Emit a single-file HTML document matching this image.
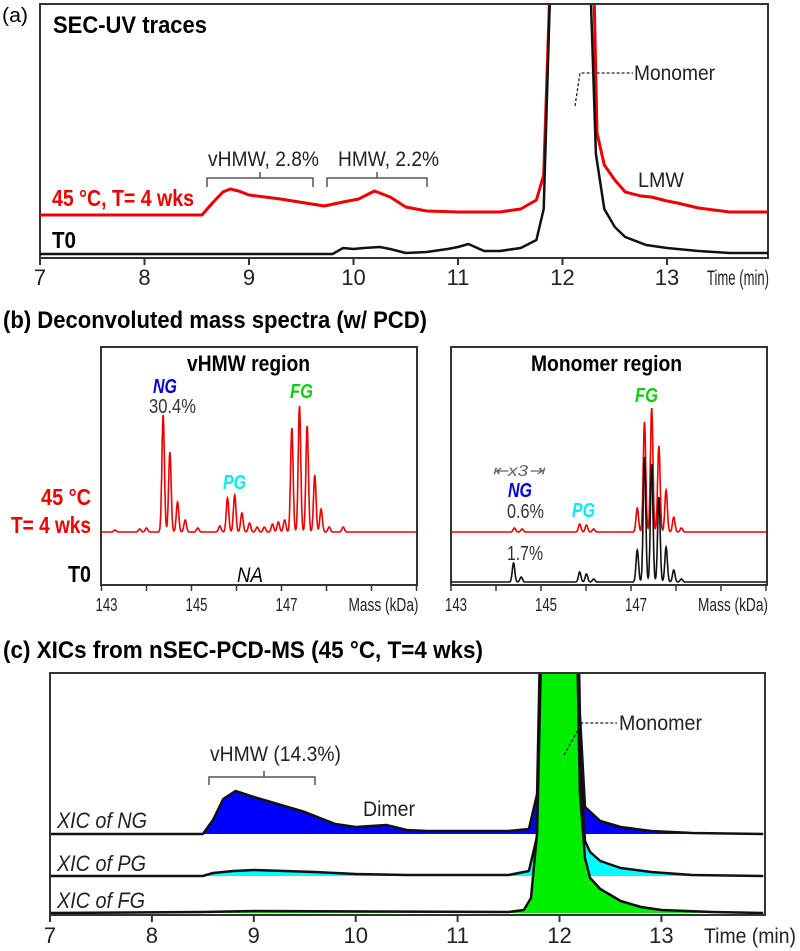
<!DOCTYPE html>
<html><head><meta charset="utf-8"><style>
html,body{margin:0;padding:0;background:#fff;}
svg{display:block;}
text{font-family:"Liberation Sans Narrow","Liberation Sans",sans-serif;}
</style></head><body>
<svg id="fig" width="800" height="951" viewBox="0 0 800 951" xmlns="http://www.w3.org/2000/svg">
<defs>
<clipPath id="clipA"><rect x="40" y="5" width="728" height="253"/></clipPath>
<clipPath id="clipBL"><rect x="101" y="347" width="316" height="238"/></clipPath>
<clipPath id="clipBR"><rect x="451" y="347" width="316" height="238"/></clipPath>
<clipPath id="clipC"><rect x="50" y="673" width="715" height="242"/></clipPath>
</defs>

<!-- Panel a -->
<g>
<text x="2" y="22" font-size="20" textLength="26" lengthAdjust="spacingAndGlyphs">(a)</text>
<rect x="40" y="4" width="728" height="254" fill="none" stroke="#333" stroke-width="2"/>
<text x="53" y="33" font-size="24" font-weight="bold" textLength="154" lengthAdjust="spacingAndGlyphs">SEC-UV traces</text>
<g id="aTraces" clip-path="url(#clipA)"></g>
<g id="aAxis"></g>
<text x="52" y="206" font-size="23" font-weight="bold" fill="#e00" textLength="142" lengthAdjust="spacingAndGlyphs">45 °C, T= 4 wks</text>
<text x="52" y="248" font-size="23" font-weight="bold" textLength="24" lengthAdjust="spacingAndGlyphs">T0</text>
<path d="M207,187 V178 H313 V187 M260,178 V172" fill="none" stroke="#555" stroke-width="1.5"/>
<text x="208" y="166" font-size="21" fill="#222" textLength="111" lengthAdjust="spacingAndGlyphs">vHMW, 2.8%</text>
<path d="M327,187 V178 H427 V187 M377,178 V172" fill="none" stroke="#555" stroke-width="1.5"/>
<text x="338" y="166" font-size="21" fill="#222" textLength="101" lengthAdjust="spacingAndGlyphs">HMW, 2.2%</text>
<text x="638" y="187" font-size="21" fill="#222" textLength="46" lengthAdjust="spacingAndGlyphs">LMW</text>
<path d="M575,106 L580,73 H633" fill="none" stroke="#222" stroke-width="1.3" stroke-dasharray="3,2"/>
<text x="634" y="80" font-size="21" fill="#222" textLength="81" lengthAdjust="spacingAndGlyphs">Monomer</text>
</g>

<!-- Panel b -->
<g>
<text x="3" y="328" font-size="24" font-weight="bold" textLength="424" lengthAdjust="spacingAndGlyphs">(b) Deconvoluted mass spectra (w/ PCD)</text>
<rect x="101" y="347" width="316" height="238" fill="none" stroke="#333" stroke-width="2"/>
<rect x="451" y="347" width="316" height="238" fill="none" stroke="#333" stroke-width="2"/>
<g id="bLeft" clip-path="url(#clipBL)"></g>
<g id="bRight" clip-path="url(#clipBR)"></g>
<g id="bAxis"></g>
<text x="187" y="371" font-size="22" font-weight="bold" textLength="123" lengthAdjust="spacingAndGlyphs">vHMW region</text>
<text x="531" y="371" font-size="22" font-weight="bold" textLength="151" lengthAdjust="spacingAndGlyphs">Monomer region</text>
<text x="153" y="393" font-size="20" font-weight="bold" font-style="italic" fill="#00d" textLength="24" lengthAdjust="spacingAndGlyphs">NG</text>
<text x="149" y="413" font-size="20" fill="#333" textLength="47" lengthAdjust="spacingAndGlyphs">30.4%</text>
<text x="223" y="489" font-size="20" font-weight="bold" font-style="italic" fill="#0ee" textLength="23" lengthAdjust="spacingAndGlyphs">PG</text>
<text x="290" y="398" font-size="20" font-weight="bold" font-style="italic" fill="#1c1" textLength="23" lengthAdjust="spacingAndGlyphs">FG</text>
<text x="41" y="505" font-size="23" font-weight="bold" fill="#e00" textLength="50" lengthAdjust="spacingAndGlyphs">45 °C</text>
<text x="11" y="533" font-size="23" font-weight="bold" fill="#e00" textLength="80" lengthAdjust="spacingAndGlyphs">T= 4 wks</text>
<text x="68" y="582" font-size="23" font-weight="bold" textLength="23" lengthAdjust="spacingAndGlyphs">T0</text>
<text x="237" y="582" font-size="21" font-style="italic" textLength="26" lengthAdjust="spacingAndGlyphs">NA</text>
<text x="492" y="476" font-size="16" font-style="italic" fill="#666" textLength="52" lengthAdjust="spacingAndGlyphs">⇤x3⇥</text>
<text x="508" y="497" font-size="20" font-weight="bold" font-style="italic" fill="#00d" textLength="24" lengthAdjust="spacingAndGlyphs">NG</text>
<text x="507" y="518" font-size="20" fill="#333" textLength="37" lengthAdjust="spacingAndGlyphs">0.6%</text>
<text x="572" y="517" font-size="20" font-weight="bold" font-style="italic" fill="#0ee" textLength="23" lengthAdjust="spacingAndGlyphs">PG</text>
<text x="635" y="402" font-size="20" font-weight="bold" font-style="italic" fill="#1c1" textLength="23" lengthAdjust="spacingAndGlyphs">FG</text>
<text x="507" y="560" font-size="20" fill="#333" textLength="36" lengthAdjust="spacingAndGlyphs">1.7%</text>
</g>

<!-- Panel c -->
<g>
<text x="3" y="658" font-size="24" font-weight="bold" textLength="480" lengthAdjust="spacingAndGlyphs">(c) XICs from nSEC-PCD-MS (45 °C, T=4 wks)</text>
<g id="cTraces" clip-path="url(#clipC)"></g>
<rect x="50" y="673" width="715" height="242" fill="none" stroke="#333" stroke-width="2"/>
<g id="cAxis"></g>
<text x="57" y="828" font-size="22" font-style="italic" fill="#222" textLength="90" lengthAdjust="spacingAndGlyphs">XIC of NG</text>
<text x="57" y="871" font-size="22" font-style="italic" fill="#222" textLength="89" lengthAdjust="spacingAndGlyphs">XIC of PG</text>
<text x="57" y="908" font-size="22" font-style="italic" fill="#222" textLength="88" lengthAdjust="spacingAndGlyphs">XIC of FG</text>
<path d="M209,785 V777 H315 V785 M264,777 V771" fill="none" stroke="#555" stroke-width="1.5"/>
<text x="210" y="761" font-size="21" fill="#222" textLength="131" lengthAdjust="spacingAndGlyphs">vHMW (14.3%)</text>
<text x="363" y="816" font-size="21" fill="#222" textLength="52" lengthAdjust="spacingAndGlyphs">Dimer</text>
<path d="M564,755 L582,723 H617" fill="none" stroke="#222" stroke-width="1.3" stroke-dasharray="3,2"/>
<text x="619" y="730" font-size="21" fill="#222" textLength="83" lengthAdjust="spacingAndGlyphs">Monomer</text>
</g>
</svg>
<script>
// ---------- Panel (a) data: SEC-UV traces ----------
const aRedTimes = [7,8.55,8.65,8.75,8.82,8.9,9.0,9.3,9.6,9.72,9.9,10.05,10.2,10.35,10.5,10.7,11.0,11.4,11.6,11.75,11.82,11.88,11.95,12.05,12.2,12.3,12.33,12.4,12.5,12.6,12.75,12.85,13.0,13.1,13.3,13.6,14];
const aRedValues = [0,0,12,23,26,24,20,16,11,9,13,16,24,18,8,4,3,3,6,15,40,230,600,700,600,230,82,50,35,23,19,18,14,12,7,3,3];
const aBlackTimes = [7,9.8,9.9,10.0,10.1,10.25,10.35,10.5,10.7,10.9,11.0,11.1,11.25,11.4,11.6,11.75,11.82,11.88,11.95,12.05,12.2,12.27,12.32,12.4,12.5,12.6,12.8,13.0,13.3,13.6,14];
const aBlackValues = [0,0,6,5,6,7,5,1,2,5,7,10,3,3,6,14,45,260,650,750,650,260,100,45,27,17,9,6,3,1,1];
const aTicks = [7,8,9,10,11,12,13];

// ---------- Panel (b) data: deconvoluted mass spectra ----------
const bLeftRedMass = [143.3,143.85,144.0,144.37,144.52,144.69,144.86,145.14,145.63,145.8,145.96,146.12,146.29,146.46,146.62,146.8,146.93,147.07,147.23,147.4,147.57,147.74,147.88,148.06,148.37];
const bLeftRedHeight = [2,3,4,117,80,30,12,4,6,34,37,19,9,5,5,8,10,12,104,126,106,57,23,5,5];
const bRightRedMass = [144.41,144.58,145.86,146.01,146.17,147.14,147.3,147.46,147.62,147.78,147.95,148.12];
const bRightRedHeight = [4,3,8,7,3,24,110,124,86,42,15,4];
const bRightBlackMass = [144.39,144.56,145.86,146.01,146.17,147.14,147.3,147.46,147.62,147.78,147.95,148.12];
const bRightBlackHeight = [19,5,10,8,3,32,125,118,85,35,12,3];
const bTicks = [143,144,145,146,147,148,149,150];
const bTickLabels = ["143","","145","","147","","",""];

// ---------- Panel (c) data: XICs ----------
const cNGTimes = [7,8.5,8.6,8.7,8.82,9.0,9.3,9.5,9.6,9.8,10.0,10.15,10.3,10.5,10.7,11.0,11.5,11.7,11.78,11.85,12.0,12.15,12.2,12.25,12.4,12.6,12.9,13.3,14];
const cNGValues = [0,0,14,35,43,37,28,22,18,10,7,8,9,4,3,3,3,5,40,400,800,400,120,27,13,7,3,1,0];
const cPGTimes = [7,8.5,8.6,8.8,9.0,9.3,9.6,10.0,10.5,11.5,11.7,11.78,11.85,12.0,12.15,12.2,12.25,12.3,12.4,12.6,12.9,13.3,14];
const cPGValues = [0,0,3,5,6,5,4,2,1,1,5,40,400,800,400,120,35,24,15,8,4,1,0];
const cFGTimes = [7,8.5,9.0,11.5,11.65,11.72,11.78,11.85,12.0,12.15,12.2,12.25,12.3,12.4,12.5,12.6,12.8,13.0,13.5,14];
const cFGValues = [0,1,2,1,3,15,80,400,800,400,120,55,35,24,18,12,6,3,1,0];
const cTicks = [7,8,9,10,11,12,13];

const NS = "http://www.w3.org/2000/svg";
function mk(tag, attrs, parent){ const e=document.createElementNS(NS,tag); for(const k in attrs) e.setAttribute(k,attrs[k]); parent.appendChild(e); return e; }

const xA = t => 40 + (t-7)*104.5;
const yRedA = v => 215 - v;
const yBlackA = v => 254 - v;
const xBL = m => 101.5 + (m-143)*45;
const xBR = m => 451 + (m-143)*45;
const yBRed = h => 532 - h;
const yBBlack = h => 582 - h;
const xC = t => 50 + (t-7)*101.9;
const yNG = v => 834 - v;
const yPG = v => 876 - v;
const yFG = v => 913 - v;

function linePath(times, vals, xf, yf){
  return times.map((t,i)=>(i?"L":"M")+xf(t).toFixed(1)+","+yf(vals[i]).toFixed(1)).join(" ");
}

const gA = document.getElementById('aTraces');
let p = mk('path',{d:linePath(aRedTimes,aRedValues,xA,yRedA),fill:"none",stroke:"#e00","stroke-width":3,"stroke-linejoin":"round"},gA);


p = mk('path',{d:linePath(aBlackTimes,aBlackValues,xA,yBlackA),fill:"none",stroke:"#111","stroke-width":2.5,"stroke-linejoin":"round"},gA);



function timeAxis(g, ticks, xf, y0, labelY, fontSize, nameP){
  ticks.forEach(t=>{
    const l = mk('line',{x1:xf(t),x2:xf(t),y1:y0,y2:y0+7,stroke:"#333","stroke-width":2},g);
    
    
    const tx = mk('text',{x:xf(t),y:labelY,"font-size":fontSize,"text-anchor":"middle",fill:"#222"},g);
    tx.textContent = String(t);
    
    
  });
}
const gAx = document.getElementById('aAxis');
timeAxis(gAx, aTicks, xA, 258, 285, 22, 'a-x');
let tt = mk('text',{x:707,y:285,"font-size":21,fill:"#222",textLength:62,lengthAdjust:"spacingAndGlyphs"},gAx);
tt.textContent = "Time (min)";



function spectrumPath(masses, heights, xf, yf, m0, m1){
  let d = "";
  const step = 0.005, s = 0.028;
  for(let m=m0, i=0; m<=m1+1e-9; m+=step, i++){
    let v = 0;
    for(let k=0;k<masses.length;k++){ const z=(m-masses[k])/s; v += heights[k]*Math.exp(-0.5*z*z); }
    d += (i?"L":"M")+xf(m).toFixed(1)+","+yf(v).toFixed(1);
  }
  return d;
}
const gBL = document.getElementById('bLeft');
p = mk('path',{d:spectrumPath(bLeftRedMass,bLeftRedHeight,xBL,yBRed,143,150),fill:"none",stroke:"#e00","stroke-width":1.6},gBL);


const gBR = document.getElementById('bRight');
p = mk('path',{d:spectrumPath(bRightRedMass,bRightRedHeight,xBR,yBRed,143,150),fill:"none",stroke:"#e00","stroke-width":1.6},gBR);


p = mk('path',{d:spectrumPath(bRightBlackMass,bRightBlackHeight,xBR,yBBlack,143,150),fill:"none",stroke:"#111","stroke-width":1.6},gBR);



const gBAx = document.getElementById('bAxis');
[xBL,xBR].forEach((xf,pi)=>{
  bTicks.forEach((m,i)=>{
    const l = mk('line',{x1:xf(m),x2:xf(m),y1:585,y2:591,stroke:"#333","stroke-width":1.5},gBAx);
    
    
    if(bTickLabels[i]){
      const tx = mk('text',{x:xf(m)+5,y:611,"font-size":18,"text-anchor":"middle",fill:"#222",textLength:22,lengthAdjust:"spacingAndGlyphs"},gBAx);
      tx.textContent = bTickLabels[i];
      
      
    }
  });
  const at = mk('text',{x:xf(150)-68,y:611,"font-size":18,fill:"#222",textLength:70,lengthAdjust:"spacingAndGlyphs"},gBAx);
  at.textContent = "Mass (kDa)";
  
  
});

function areaPath(times, vals, xf, yf){
  return linePath(times,vals,xf,yf)+" L"+xf(times[times.length-1]).toFixed(1)+","+yf(0)+" L"+xf(times[0]).toFixed(1)+","+yf(0)+" Z";
}
const gC = document.getElementById('cTraces');
p = mk('path',{d:areaPath(cNGTimes,cNGValues,xC,yNG),fill:"#00f",stroke:"none"},gC);


p = mk('path',{d:linePath(cNGTimes,cNGValues,xC,yNG),fill:"none",stroke:"#111","stroke-width":2.5,"stroke-linejoin":"round"},gC);


p = mk('path',{d:areaPath(cPGTimes,cPGValues,xC,yPG),fill:"#0ff",stroke:"none"},gC);


p = mk('path',{d:linePath(cPGTimes,cPGValues,xC,yPG),fill:"none",stroke:"#111","stroke-width":2.5,"stroke-linejoin":"round"},gC);


p = mk('path',{d:areaPath(cFGTimes,cFGValues,xC,yFG),fill:"#0e0",stroke:"none"},gC);


p = mk('path',{d:linePath(cFGTimes,cFGValues,xC,yFG),fill:"none",stroke:"#111","stroke-width":2.5,"stroke-linejoin":"round"},gC);



const gCAx = document.getElementById('cAxis');
timeAxis(gCAx, cTicks, xC, 915, 943, 22, 'c-x');
tt = mk('text',{x:704,y:943,"font-size":21,fill:"#222",textLength:92,lengthAdjust:"spacingAndGlyphs"},gCAx);
tt.textContent = "Time (min)";


</script>
</body></html>
